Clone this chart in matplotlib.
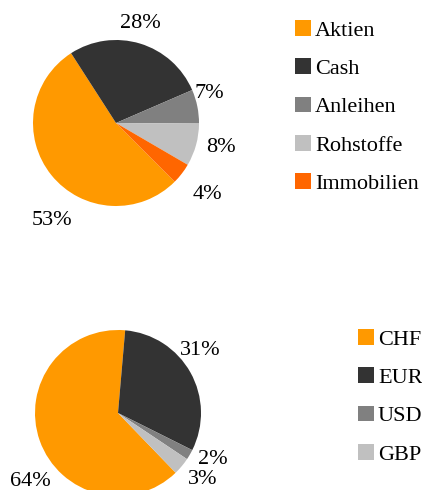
import matplotlib
matplotlib.use("Agg")
import matplotlib.pyplot as plt
import numpy as np

plt.rcParams['font.family'] = ['Liberation Serif', 'DejaVu Serif']

# --- data ---
asset_labels = ["Aktien", "Cash", "Anleihen", "Rohstoffe", "Immobilien"]
asset_values = [53.4, 27.6, 6.6, 8.3, 4.1]
asset_colors = ["#FF9900", "#333333", "#808080", "#C0C0C0", "#FF6600"]

ccy_labels = ["CHF", "EUR", "USD", "GBP"]
ccy_values = [63.6, 31.0, 2.0, 3.4]
ccy_colors = ["#FF9900", "#333333", "#808080", "#C0C0C0"]

W, H = 422, 490
fig = plt.figure(figsize=(W / 100, H / 100), dpi=100)
FS = 16

def make_axes(cx, cy, r):
    return fig.add_axes([(cx - r) / W, (H - cy - r) / H, 2 * r / W, 2 * r / H])

def draw_pie(ax, values, colors, start, label_pos):
    wedges, _ = ax.pie(values, colors=colors, startangle=start, counterclock=False,
                       radius=1.0, wedgeprops=dict(linewidth=0))
    total = sum(values)
    for v, (lx, ly) in zip(values, label_pos):
        ax.text(lx, ly, f"{v / total * 100:.0f}%", ha="center", va="center",
                fontsize=FS, clip_on=False)
    ax.set_xlim(-1, 1)
    ax.set_ylim(-1, 1)
    ax.set_aspect("equal")
    ax.axis("off")
    return wedges

# label positions in pie-radius units (style)
top_label_pos = [(-0.77, -1.18), (0.29, 1.20), (1.12, 0.36), (1.27, -0.30), (1.10, -0.86)]
bot_label_pos = [(-1.06, -0.83), (0.99, 0.75), (1.14, -0.56), (1.02, -0.80)]

ax1 = make_axes(116, 123, 83)
w1 = draw_pie(ax1, asset_values, asset_colors, -45, top_label_pos)

ax2 = make_axes(118, 413, 83)
w2 = draw_pie(ax2, ccy_values, ccy_colors, -46, bot_label_pos)

def add_legend(wedges, labels, x_left, y_top):
    leg = fig.legend(wedges, labels, loc="upper left",
                     bbox_to_anchor=(x_left / W, 1 - y_top / H),
                     frameon=False, fontsize=FS, handlelength=0.7, handleheight=0.7,
                     handletextpad=0.2, labelspacing=0.80, borderpad=0, borderaxespad=0)
    return leg

add_legend(w1, asset_labels, 295, 20)
add_legend(w2, ccy_labels, 358, 329)

fig.savefig("out.png", dpi=100)
